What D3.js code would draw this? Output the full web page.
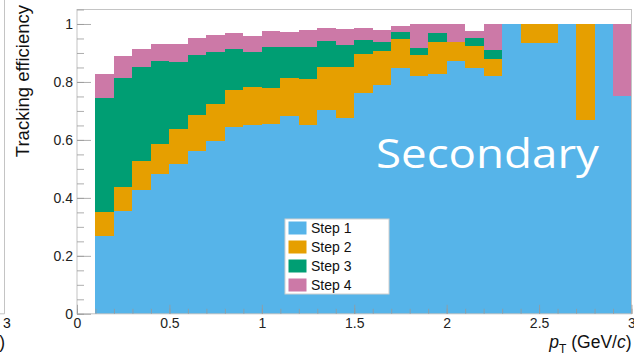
<!doctype html>
<html>
<head>
<meta charset="utf-8">
<title>Tracking efficiency - Secondary</title>
<script src="https://d3js.org/d3.v7.min.js"></script>
<style type="text/css">
	body { margin: 0; background: #fff; }
	.tick text { font-family: "Liberation Sans", Arial, sans-serif; font-size: 14px; fill: #222; }
	.axtitle { font-family: "Liberation Sans", Arial, sans-serif; font-size: 17.5px; fill: #111; }
	.leg { font-family: "Liberation Sans", Arial, sans-serif; font-size: 14px; fill: #111; }
</style>
</head>
<body>
<script>
	// bin low edges in pT (GeV/c), width 0.1
	var binLow = [0.1, 0.2, 0.3, 0.4, 0.5, 0.6, 0.7, 0.8, 0.9, 1.0,
	              1.1, 1.2, 1.3, 1.4, 1.5, 1.6, 1.7, 1.8, 1.9, 2.0,
	              2.1, 2.2, 2.3, 2.4, 2.5, 2.6, 2.7, 2.8, 2.9];
	var binWidth = 0.1;

	// efficiency gained in each step (stacked)
	var step1 = [0.270, 0.353, 0.427, 0.483, 0.518, 0.561, 0.597, 0.645, 0.651, 0.656,
	             0.681, 0.653, 0.703, 0.677, 0.761, 0.791, 0.849, 0.821, 0.827, 0.872,
	             0.848, 0.821, 1.000, 0.933, 0.933, 1.000, 0.670, 1.000, 0.752];
	var step2 = [0.082, 0.085, 0.099, 0.104, 0.120, 0.125, 0.127, 0.127, 0.130, 0.124,
	             0.132, 0.158, 0.149, 0.174, 0.135, 0.116, 0.098, 0.072, 0.110, 0.065,
	             0.077, 0.059, 0.000, 0.067, 0.067, 0.000, 0.330, 0.000, 0.000];
	var step3 = [0.394, 0.375, 0.325, 0.285, 0.230, 0.208, 0.180, 0.141, 0.123, 0.142,
	             0.109, 0.110, 0.089, 0.076, 0.049, 0.030, 0.026, 0.023, 0.032, 0.000,
	             0.025, 0.030, 0.000, 0.000, 0.000, 0.000, 0.000, 0.000, 0.000];
	var step4 = [0.083, 0.075, 0.062, 0.060, 0.064, 0.058, 0.057, 0.055, 0.054, 0.053,
	             0.049, 0.057, 0.045, 0.056, 0.042, 0.041, 0.020, 0.084, 0.031, 0.063,
	             0.026, 0.090, 0.000, 0.000, 0.000, 0.000, 0.000, 0.000, 0.248];

	var stepNames = ["Step 1", "Step 2", "Step 3", "Step 4"];
	var stepColors = ["#56B4E9", "#E69F00", "#009E73", "#CC79A7"];

	var xMajor = [0, 0.5, 1, 1.5, 2, 2.5, 3];
	var yMajor = [0, 0.2, 0.4, 0.6, 0.8, 1];

	var w = 634, h = 355;
	var padL = 77, padR = 631.5, padT = 9.5, padB = 313.8;

	var svg = d3.select("body").append("svg")
		.attr("width", w)
		.attr("height", h);

	var xScale = d3.scaleLinear().domain([0, 3]).range([padL, padR]);
	var yScale = d3.scaleLinear().domain([0, 1.05]).range([padB, padT]);

	var table = binLow.map(function(lo, i) {
		return { lo: lo, "Step 1": step1[i], "Step 2": step2[i], "Step 3": step3[i], "Step 4": step4[i] };
	});
	var series = d3.stack().keys(stepNames)(table);

	// stacked histogram
	svg.append("g")
		.selectAll("g")
		.data(series)
		.enter()
		.append("g")
		.attr("fill", function(d, i) { return stepColors[i]; })
		.selectAll("rect")
		.data(function(d) { return d; })
		.enter()
		.append("rect")
		.attr("shape-rendering", "crispEdges")
		.attr("x", function(d) { return xScale(d.data.lo); })
		.attr("width", function(d) { return xScale(d.data.lo + binWidth) - xScale(d.data.lo); })
		.attr("y", function(d) { return yScale(d[1]); })
		.attr("height", function(d) { return Math.max(0, yScale(d[0]) - yScale(d[1])); });

	// frame
	svg.append("rect")
		.attr("x", padL).attr("y", padT)
		.attr("width", padR - padL).attr("height", padB - padT)
		.attr("fill", "none")
		.attr("stroke", "#c4c4c4");

	// axes (ticks point inward)
	svg.append("g")
		.attr("transform", "translate(" + padL + ",0)")
		.call(d3.axisLeft(yScale).tickValues(yMajor).tickSize(-14).tickPadding(4)
			.tickFormat(d3.format("~g")));
	svg.append("g")
		.attr("transform", "translate(" + padL + ",0)")
		.call(d3.axisLeft(yScale).tickValues(d3.range(0, 1.051, 0.05)).tickSize(-7).tickFormat(""));

	svg.append("g")
		.attr("transform", "translate(0," + padB + ")")
		.call(d3.axisBottom(xScale).tickValues(xMajor).tickSize(-9).tickPadding(4)
			.tickFormat(d3.format("~g")));
	svg.append("g")
		.attr("transform", "translate(0," + padB + ")")
		.call(d3.axisBottom(xScale).tickValues(d3.range(0, 3.001, 0.1)).tickSize(-5).tickFormat(""));

	svg.selectAll(".domain").remove();
	svg.selectAll(".tick line").attr("stroke", "#9a9a9a").attr("stroke-opacity", 0.8);
	svg.selectAll(".tick text").attr("font-family", null).attr("font-size", null);

	// axis titles
	svg.append("text")
		.attr("class", "axtitle")
		.attr("transform", "translate(29,5) rotate(-90)")
		.attr("text-anchor", "end")
		.style("font-size", "18.5px")
		.text("Tracking efficiency");

	var xt = svg.append("text")
		.attr("class", "axtitle")
		.attr("x", padR)
		.attr("y", 348)
		.attr("text-anchor", "end");
	xt.append("tspan").style("font-style", "italic").text("p");
	xt.append("tspan").attr("dy", 5).style("font-size", "12px").text("T");
	xt.append("tspan").attr("dy", -5).text(" (GeV/");
	xt.append("tspan").style("font-style", "italic").text("c");
	xt.append("tspan").text(")");

	// legend
	var leg = svg.append("g").attr("transform", "translate(285,219)");
	leg.append("rect")
		.attr("width", 104).attr("height", 75)
		.attr("fill", "#fff")
		.attr("stroke", "#cfcfcf");
	var items = leg.selectAll("g.item")
		.data(stepNames)
		.enter()
		.append("g")
		.attr("class", "item")
		.attr("transform", function(d, i) { return "translate(0," + (i * 19) + ")"; });
	items.append("rect")
		.attr("x", 3.5).attr("y", 2.5)
		.attr("width", 18).attr("height", 13)
		.attr("fill", function(d, i) { return stepColors[i]; });
	items.append("text")
		.attr("class", "leg")
		.attr("x", 26)
		.attr("y", 9)
		.attr("dy", "0.35em")
		.text(function(d) { return d; });

	// big label
	svg.append("text")
		.attr("x", 376)
		.attr("y", 168)
		.attr("textLength", 223)
		.attr("lengthAdjust", "spacingAndGlyphs")
		.style("font-family", "'Open Sans', sans-serif")
		.style("font-size", "41px")
		.style("fill", "#fff")
		.text("Secondary");

	// edge of the neighbouring pad
	svg.append("path")
		.attr("d", "M4.5,0V" + padB + "H0")
		.attr("fill", "none")
		.attr("stroke", "#c4c4c4");
	svg.append("text")
		.attr("class", "leg")
		.attr("x", 7)
		.attr("y", 328)
		.attr("text-anchor", "middle")
		.text("3");
	svg.append("text")
		.attr("class", "axtitle")
		.attr("x", 5)
		.attr("y", 348)
		.attr("text-anchor", "end")
		.text(")");
</script>
</body>
</html>
